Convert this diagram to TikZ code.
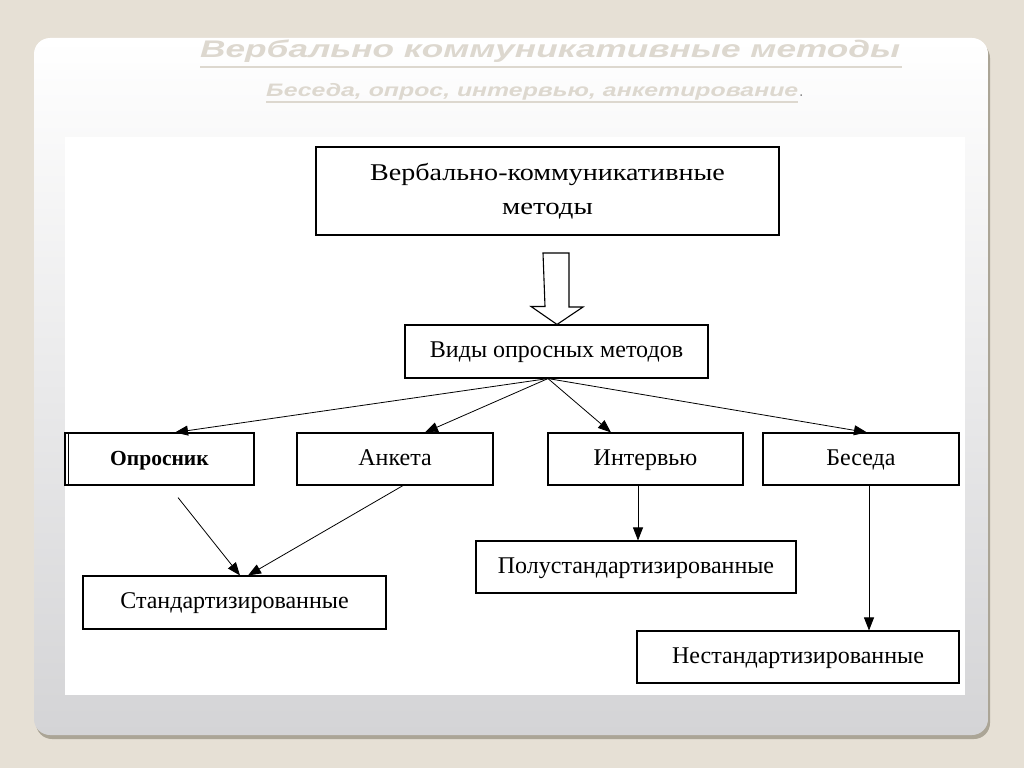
\documentclass[tikz,border=0pt]{standalone}
\usepackage{fontspec}
\setmainfont{Liberation Serif}
\newfontfamily\titlefont{Liberation Sans}
\usetikzlibrary{arrows.meta,calc}
\definecolor{bgbeige}{HTML}{E6E0D5}
\definecolor{shadowc}{HTML}{ABA596}
\definecolor{panelgrey}{HTML}{D4D4D6}
\definecolor{titlefill}{HTML}{DDD8CF}
\begin{document}
\begin{tikzpicture}[x=1pt,y=-1pt,
  box/.style={draw=black, line width=1.1pt, fill=white, inner sep=0pt, font=\fontsize{24}{28}\selectfont, align=center, text height=16pt, text depth=4pt},
  arr/.style={draw=black, line width=0.8pt, -{Triangle[length=13pt,width=10pt]}},
  ttl/.style={inner sep=0pt, anchor=base west, text=titlefill},
  uline/.style={draw=titlefill, line width=2pt}
]
\useasboundingbox (0,0) rectangle (1024,768);
% background
\fill[bgbeige] (0,0) rectangle (1024,768);
% panel shadow
\fill[shadowc, rounded corners=16pt] (36,42) rectangle (990,739);
% panel
\shade[top color=white, bottom color=panelgrey, rounded corners=16pt] (34,38) rectangle (988,735);
\fill[white] (65,137) rectangle (965,695);

% titles
\node[ttl] (t1) at (200,58) {\resizebox{700pt}{\height}{\titlefont\fontsize{24}{28}\selectfont\bfseries\itshape Вербально коммуникативные методы}};
\draw[uline] (200,67) -- (902,67);
\node[ttl] (t2) at (266,96) {\resizebox{532pt}{\height}{\titlefont\fontsize{18}{22}\selectfont\bfseries\itshape Беседа, опрос, интервью, анкетирование}};
\draw[uline, line width=1.6pt] (266,102) -- (798,102);
\node[ttl, text=black!45] (dot) at (799,96) {\titlefont\fontsize{16}{20}\selectfont .};

% boxes
\node[box, minimum width=463pt, minimum height=88pt, text height=, text depth=] (top) at (547.5,191) {\scalebox{1.17}[1]{Вербально-коммуникативные}\\[6pt]\scalebox{1.2}[1]{методы}};
\node[box, minimum width=303pt, minimum height=53pt] (vid) at (556.5,351.5) {Виды опросных методов};
\node[box, minimum width=189pt, minimum height=52pt, font=\fontsize{21.5}{25}\selectfont\bfseries] (op) at (159.5,459) {Опросник};
\draw[line width=1.1pt] (68.5,433) -- (68.5,485);
\node[box, minimum width=196pt, minimum height=52pt] (ank) at (395,459) {Анкета};
\node[box, minimum width=195pt, minimum height=52pt] (int) at (645.5,459) {Интервью};
\node[box, minimum width=196pt, minimum height=52pt] (bes) at (861,459) {Беседа};
\node[box, minimum width=303pt, minimum height=53pt] (std) at (234.5,602.5) {Стандартизированные};
\node[box, minimum width=320pt, minimum height=52pt] (polu) at (636,567) {Полустандартизированные};
\node[box, minimum width=322pt, minimum height=52pt] (nest) at (798,657) {Нестандартизированные};

% hollow block arrow
\draw[line width=1.1pt, fill=white, line join=miter]
  ([xshift=-4.5pt]top.south |- 0,253) -- ++(26,0) -- ++(0,54) -- ++(14,0)
  -- ([xshift=0.5pt]vid.north) -- ++(-26,-18) -- ++(14,0) -- cycle;

% fan-out
\coordinate (fan) at ([xshift=-8.5pt]vid.south);
\draw[arr] (fan) -- ([xshift=15.5pt]op.north);
\draw[arr] (fan) -- ([xshift=30pt]ank.north);
\draw[arr] (fan) -- ([xshift=-34.5pt]int.north);
\draw[arr] (fan) -- ([xshift=6pt]bes.north);

% lower arrows
\draw[arr] ([xshift=18.5pt,yshift=-12pt]op.south) -- ([xshift=5.5pt]std.north);
\draw[arr] ([xshift=8pt]ank.south) -- ([xshift=13.5pt]std.north);
\draw[arr] ([xshift=-7.5pt]int.south) -- ([xshift=-7.5pt]int.south |- polu.north);
\draw[arr] ([xshift=8pt]bes.south) -- ([xshift=8pt]bes.south |- nest.north);
\end{tikzpicture}
\end{document}
